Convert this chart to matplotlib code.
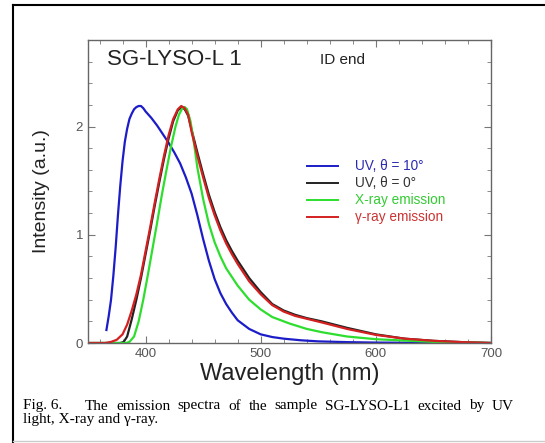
import numpy as np
import matplotlib
matplotlib.use('Agg')
import matplotlib.pyplot as plt
from matplotlib.ticker import MultipleLocator
from matplotlib.lines import Line2D

# Values (wavelength in nm, intensity in a.u.)
wl_uv10 = [366, 368, 370, 372, 374, 376, 378, 380, 382, 384, 386, 388, 390, 392, 394,
           396, 398, 400, 405, 410, 415, 420, 425, 430, 435, 440, 445, 450, 455, 460,
           465, 470, 475, 480, 490, 500, 510, 520, 535, 550, 575, 600, 650, 700]
int_uv10 = [0.12, 0.25, 0.40, 0.62, 0.88, 1.18, 1.45, 1.68, 1.86, 1.98, 2.07, 2.12,
            2.16, 2.18, 2.19, 2.19, 2.17, 2.14, 2.08, 2.01, 1.93, 1.85, 1.76, 1.66,
            1.53, 1.38, 1.18, 0.96, 0.76, 0.59, 0.46, 0.36, 0.28, 0.21, 0.13, 0.08,
            0.055, 0.04, 0.025, 0.015, 0.008, 0.004, 0.001, 0.0]

wl_uv0 = [350, 378, 381, 384, 388, 392, 396, 400, 404, 408, 412, 416, 420, 424, 428,
          431.5, 434, 437, 440, 445, 450, 455, 460, 465, 470, 475, 480, 490, 500, 510,
          520, 530, 540, 553, 575, 600, 625, 650, 675, 700]
int_uv0 = [0.0, 0.0, 0.01, 0.06, 0.22, 0.40, 0.60, 0.82, 1.04, 1.27, 1.49, 1.70, 1.89,
           2.05, 2.15, 2.18, 2.16, 2.10, 1.97, 1.76, 1.56, 1.37, 1.21, 1.07, 0.95,
           0.85, 0.76, 0.60, 0.47, 0.36, 0.30, 0.26, 0.23, 0.20, 0.14, 0.08, 0.04,
           0.02, 0.008, 0.0]

wl_xray = [350, 383, 386, 390, 394, 398, 402, 406, 410, 414, 418, 422, 426, 429, 432,
           434, 436, 439, 442, 445, 450, 455, 460, 465, 470, 475, 480, 490, 500, 510,
           525, 540, 553, 575, 600, 650, 700]
int_xray = [0.0, 0.0, 0.01, 0.06, 0.20, 0.40, 0.63, 0.87, 1.11, 1.36, 1.59, 1.81, 2.00,
            2.11, 2.17, 2.18, 2.16, 2.05, 1.85, 1.62, 1.33, 1.10, 0.93, 0.80, 0.69,
            0.61, 0.53, 0.40, 0.31, 0.24, 0.18, 0.13, 0.10, 0.06, 0.035, 0.01, 0.0]

wl_gamma = [350, 365, 370, 375, 380, 384, 388, 392, 396, 400, 404, 408, 412, 416, 420,
            424, 428, 431, 434, 437, 440, 445, 450, 455, 460, 465, 470, 475, 480, 490,
            500, 510, 520, 530, 553, 575, 600, 625, 650, 675, 700]
int_gamma = [0.0, 0.0, 0.01, 0.03, 0.08, 0.17, 0.30, 0.45, 0.63, 0.85, 1.07, 1.30, 1.52,
             1.73, 1.92, 2.07, 2.16, 2.19, 2.17, 2.11, 1.95, 1.73, 1.53, 1.34, 1.18,
             1.04, 0.92, 0.82, 0.73, 0.57, 0.45, 0.35, 0.29, 0.25, 0.19, 0.13, 0.075,
             0.04, 0.02, 0.008, 0.0]

labels = ['UV, \u03b8 = 10\u00b0', 'UV, \u03b8 = 0\u00b0', 'X-ray emission', '\u03b3-ray emission']
colors = ['#1c1cc8', '#222222', '#2ede2e', '#d42020']
text_colors = ['#2a2ab0', '#333333', '#33cc33', '#cc3333']

caption_1 = 'The emission spectra of the sample SG-LYSO-L1 excited by UV'
caption_2 = 'light, X-ray and \u03b3-ray.'

sans = ['Liberation Sans', 'DejaVu Sans']
serif = ['Liberation Serif', 'DejaVu Serif']

fig = plt.figure(figsize=(5.45, 4.43), dpi=100)
ax = fig.add_axes([88/545, 1 - 343/443, (491 - 88)/545, (343 - 40)/443])

# Outer page frame
fig.add_artist(Line2D([13/545, 13/545], [0, 1 - 5/443], transform=fig.transFigure,
                      color='black', lw=1.5))
fig.add_artist(Line2D([13/545, 1], [1 - 5/443, 1 - 5/443], transform=fig.transFigure,
                      color='black', lw=1.5))
fig.add_artist(Line2D([13/545, 1], [2/443, 2/443], transform=fig.transFigure,
                      color='#cccccc', lw=1.0))

ax.plot(wl_uv10, int_uv10, color=colors[0], lw=1.6)
ax.plot(wl_uv0, int_uv0, color=colors[1], lw=1.6)
ax.plot(wl_xray, int_xray, color=colors[2], lw=1.6)
ax.plot(wl_gamma, int_gamma, color=colors[3], lw=1.6)

ax.set_xlim(350, 700)
ax.set_ylim(0, 2.8)
ax.xaxis.set_major_locator(MultipleLocator(100))
ax.xaxis.set_minor_locator(MultipleLocator(20))
ax.yaxis.set_major_locator(MultipleLocator(1))
ax.yaxis.set_minor_locator(MultipleLocator(0.2))
ax.set_xticks([400, 500, 600, 700])
ax.tick_params(which='both', direction='in', top=True, right=True, color='#777777',
               labelcolor='#555555', labelsize=9.5)
ax.tick_params(which='major', length=5)
ax.tick_params(which='minor', length=3)
for lab in ax.get_xticklabels() + ax.get_yticklabels():
    lab.set_family(sans)
for sp in ax.spines.values():
    sp.set_color('#666666')
    sp.set_linewidth(1.0)

ax.set_xlabel('Wavelength (nm)', fontsize=17, family=sans, color='#222222', labelpad=2)
ax.set_ylabel('Intensity (a.u.)', fontsize=14, family=sans, color='#222222')
ax.yaxis.set_label_coords(-0.095, 0.5)

ax.text(0.048, 0.935, 'SG-LYSO-L 1', transform=ax.transAxes, fontsize=16, family=sans,
        color='#222222', va='center')
ax.text(0.576, 0.935, 'ID end', transform=ax.transAxes, fontsize=11, family=sans,
        color='#222222', va='center')

# Legend drawn by hand to match the layout
leg_y = [166, 183, 200, 217]
for lbl, c, tc, yp in zip(labels, colors, text_colors, leg_y):
    yf = 1 - yp/443
    fig.add_artist(Line2D([307/545, 338/545], [yf, yf], transform=fig.transFigure,
                          color=c, lw=1.4))
    fig.text(355/545, yf, lbl, fontsize=9.8, family=sans, color=tc, va='center')

# Caption, first line justified between x=85 and x=514
cap_size = 11
fig.text(23/545, 1 - 406/443, 'Fig. 6.', fontsize=cap_size, family=serif, va='center')
renderer = fig.canvas.get_renderer()
words = caption_1.split()
word_txt = [fig.text(0, 1 - 406/443, w, fontsize=cap_size, family=serif, va='center')
            for w in words]
widths = [t.get_window_extent(renderer).width for t in word_txt]
gap = (514 - 85 - sum(widths)) / (len(words) - 1)
xpos = 85
for t, w in zip(word_txt, widths):
    t.set_x(xpos / 545)
    xpos += w + gap
fig.text(23/545, 1 - 420/443, caption_2, fontsize=cap_size, family=serif, va='center')

fig.savefig('out.png', dpi=100)
plt.close(fig)
